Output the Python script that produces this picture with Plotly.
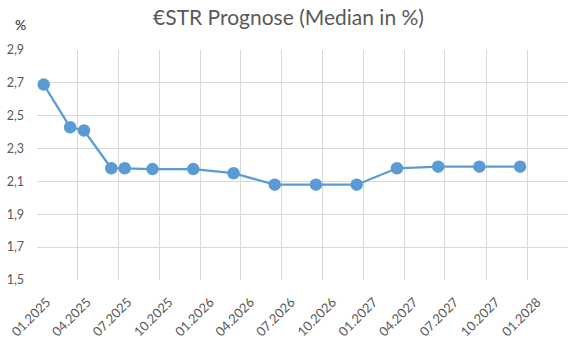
import pandas as pd
import plotly.graph_objects as go

months = ["2025-01", "2025-03", "2025-04", "2025-06", "2025-07", "2025-09", "2025-12",
          "2026-03", "2026-06", "2026-09", "2026-12", "2027-03", "2027-06", "2027-09", "2027-12"]
values = [2.69, 2.43, 2.41, 2.18, 2.18, 2.175, 2.175, 2.15, 2.08, 2.08, 2.08, 2.18, 2.19, 2.19, 2.19]
tick_months = ["2025-01", "2025-04", "2025-07", "2025-10", "2026-01", "2026-04", "2026-07",
               "2026-10", "2027-01", "2027-04", "2027-07", "2027-10", "2028-01", "2028-04"]
tick_labels = ["01.2025", "04.2025", "07.2025", "10.2025", "01.2026", "04.2026", "07.2026",
               "10.2026", "01.2027", "04.2027", "07.2027", "10.2027", "01.2028", ""]

# Excel plots monthly points in the middle of each month
x_dates = pd.to_datetime(months) + pd.Timedelta(days=15)
grid_dates = pd.to_datetime(tick_months)
# rotated Excel labels sit slightly right of their gridline
label_dates = grid_dates + pd.Timedelta(days=22)

fig = go.Figure()
fig.add_trace(go.Scatter(
    x=x_dates, y=values, mode="lines+markers",
    line=dict(color="#5B9BD5", width=2.25),
    marker=dict(color="#5B9BD5", size=12.5),
    showlegend=False, hoverinfo="skip",
))

grey = "#595959"
fig.update_layout(
    width=577, height=345,
    margin=dict(l=37, r=9, t=50, b=65, autoexpand=False),
    paper_bgcolor="white", plot_bgcolor="white",
    separators=",.",
    font=dict(family="Lato, Open Sans, sans-serif", color=grey, size=12),
    title=dict(text="€STR Prognose (Median in %)", x=0.5, xanchor="center",
               y=1 - 18 / 345, yanchor="middle",
               font=dict(size=21, color=grey)),
    xaxis=dict(
        range=[grid_dates[0], grid_dates[-1]],
        tickmode="array", tickvals=label_dates[:-1], ticktext=tick_labels[:-1],
        tickangle=-45, showgrid=False,
        minor=dict(tickmode="array", tickvals=grid_dates, showgrid=True,
                   gridcolor="#D9D9D9", gridwidth=1, ticks=""),
        zeroline=False, showline=False, ticks="", automargin=False,
        ticklabelstandoff=11, ticklabeloverflow="allow",
        tickfont=dict(size=13, color=grey),
    ),
    yaxis=dict(
        range=[1.4995, 2.9005], tick0=1.5, dtick=0.2, tickformat=".1f",
        showgrid=True, gridcolor="#D9D9D9", gridwidth=1,
        zeroline=False, showline=False, ticks="", automargin=False,
        ticklabelstandoff=12, ticklabeloverflow="allow",
        tickfont=dict(size=12.5, color=grey),
    ),
    annotations=[dict(text="%", xref="paper", yref="paper",
                      x=(20 - 37) / 531, y=1 + (50 - 25) / 230,
                      xanchor="center", yanchor="middle", showarrow=False,
                      font=dict(size=14, color="#262626"))],
)

fig.write_html("out.html")
